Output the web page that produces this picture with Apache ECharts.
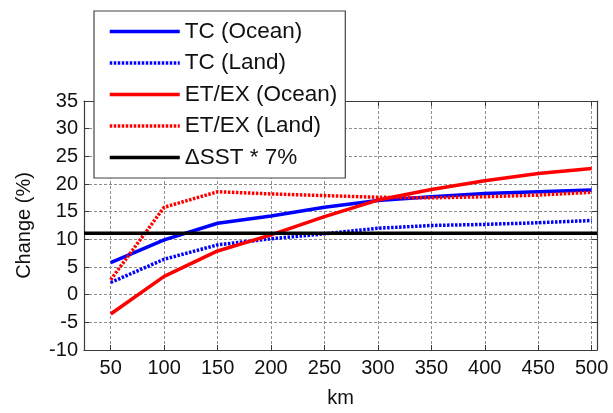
<!DOCTYPE html>
<html>
<head>
<meta charset="utf-8">
<script src="https://cdn.jsdelivr.net/npm/echarts@6/dist/echarts.min.js"></script>
<style>
  html, body { margin: 0; padding: 0; background: #fff; }
  #chart { width: 613px; height: 413px; }
</style>
</head>
<body>
<div id="chart"></div>
<script>
// scale (km) and the tick labels
const km = [50, 100, 150, 200, 250, 300, 350, 400, 450, 500];
const xTicks = [50, 100, 150, 200, 250, 300, 350, 400, 450, 500];

// change (%)
const tcOcean = [5.8, 9.9, 12.9, 14.2, 15.8, 17.0, 17.7, 18.3, 18.6, 18.9];
const tcLand = [2.2, 6.4, 9.0, 10.1, 11.0, 12.0, 12.5, 12.7, 13.0, 13.4];
const etOcean = [-3.5, 3.3, 7.9, 10.8, 14.1, 17.1, 19.0, 20.6, 21.9, 22.8];
const etLand = [2.7, 15.8, 18.6, 18.2, 17.9, 17.6, 17.5, 17.7, 18.0, 18.5];
const sstLevel = 11.1;
const sstSpan = [25, 505];

const font = "'Liberation Sans', Arial, sans-serif";
const pair = (xs, ys) => xs.map((x, i) => [x, ys[i]]);

const myChart = echarts.init(document.getElementById("chart"));

const gridLine = { show: true, lineStyle: { color: "#8c8c8c", type: [3, 2], width: 1 } };
const axisLine = { show: true, onZero: false, lineStyle: { color: "#3a3a3a", width: 1.2 } };
const dots = [2.5, 1.5];

myChart.setOption({
  animation: false,
  backgroundColor: "#fff",
  textStyle: { fontFamily: font },
  grid: { left: 84, top: 101, right: 16, bottom: 56 },
  legend: {
    orient: "vertical",
    left: 94,
    top: 11,
    padding: [9, 8, 9, 14],
    itemWidth: 70,
    itemHeight: 14,
    itemGap: 8.5,
    backgroundColor: "#fff",
    borderColor: "#444",
    borderWidth: 1.2,
    itemStyle: { opacity: 0 },
    lineStyle: { width: 3.5 },
    textStyle: { fontSize: 22.5, color: "#111", fontFamily: font },
    data: ["TC (Ocean)", "TC (Land)", "ET/EX (Ocean)", "ET/EX (Land)", "ΔSST * 7%"],
  },
  xAxis: [
    {
      type: "value",
      min: 25,
      max: 505,
      name: "km",
      nameLocation: "middle",
      nameGap: 38,
      nameTextStyle: { fontSize: 20, color: "#111" },
      axisLine: axisLine,
      axisTick: { show: true, inside: true, length: 5, customValues: xTicks, lineStyle: { color: "#3a3a3a" } },
      axisLabel: { customValues: xTicks, fontSize: 20, color: "#111", margin: 8 },
      splitLine: gridLine,
    },
    {
      type: "value",
      position: "top",
      min: 25,
      max: 505,
      axisLine: axisLine,
      axisTick: { show: true, inside: true, length: 5, customValues: xTicks, lineStyle: { color: "#3a3a3a" } },
      axisLabel: { show: false, customValues: xTicks },
      splitLine: { show: false },
    },
  ],
  yAxis: [
    {
      type: "value",
      min: -10,
      max: 35,
      interval: 5,
      name: "Change (%)",
      nameLocation: "middle",
      nameGap: 50,
      nameTextStyle: { fontSize: 20, color: "#111" },
      axisLine: axisLine,
      axisTick: { show: true, inside: true, length: 5, lineStyle: { color: "#3a3a3a" } },
      axisLabel: { fontSize: 20, color: "#111", margin: 6 },
      splitLine: gridLine,
    },
    {
      type: "value",
      position: "right",
      min: -10,
      max: 35,
      interval: 5,
      axisLine: axisLine,
      axisTick: { show: true, inside: true, length: 5, lineStyle: { color: "#3a3a3a" } },
      axisLabel: { show: false },
      splitLine: { show: false },
    },
  ],
  series: [
    {
      name: "TC (Ocean)",
      type: "line",
      symbol: "none",
      data: pair(km, tcOcean),
      lineStyle: { color: "#0000ff", width: 3.5 },
      itemStyle: { color: "#0000ff" },
    },
    {
      name: "TC (Land)",
      type: "line",
      symbol: "none",
      data: pair(km, tcLand),
      lineStyle: { color: "#0000ff", width: 3.5, type: dots },
      itemStyle: { color: "#0000ff" },
    },
    {
      name: "ET/EX (Ocean)",
      type: "line",
      symbol: "none",
      data: pair(km, etOcean),
      lineStyle: { color: "#ff0000", width: 3.5 },
      itemStyle: { color: "#ff0000" },
    },
    {
      name: "ET/EX (Land)",
      type: "line",
      symbol: "none",
      data: pair(km, etLand),
      lineStyle: { color: "#ff0000", width: 3.5, type: dots },
      itemStyle: { color: "#ff0000" },
    },
    {
      name: "ΔSST * 7%",
      type: "line",
      symbol: "none",
      data: pair(sstSpan, [sstLevel, sstLevel]),
      lineStyle: { color: "#000", width: 3.5 },
      itemStyle: { color: "#000" },
    },
  ],
});
</script>
</body>
</html>
